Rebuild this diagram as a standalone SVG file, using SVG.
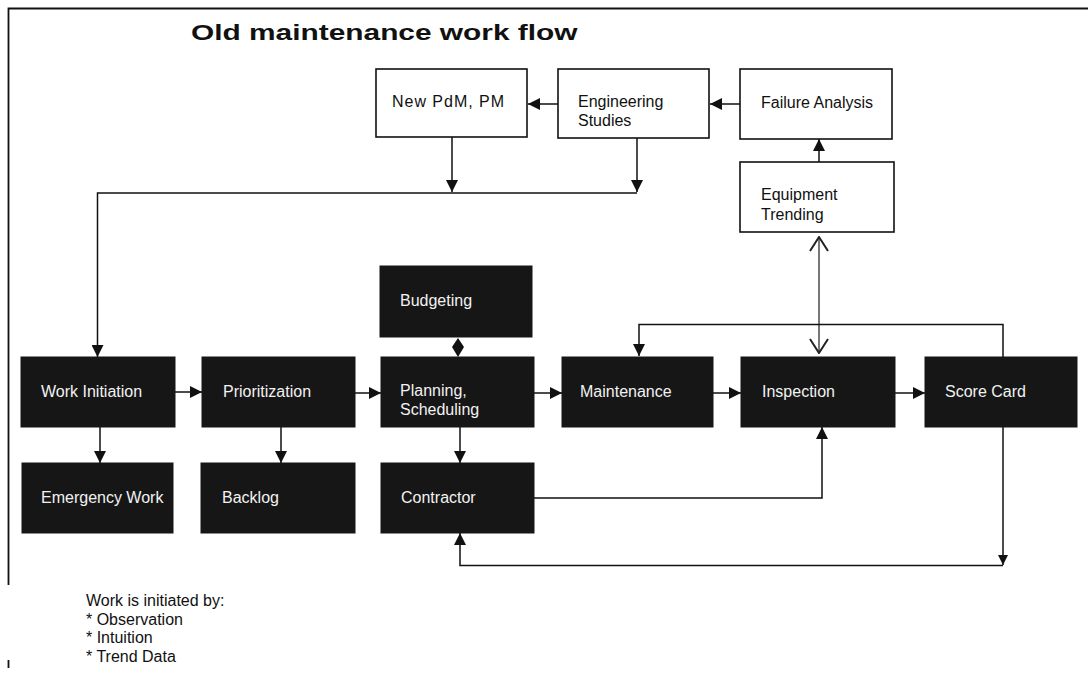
<svg xmlns="http://www.w3.org/2000/svg" width="1088" height="675" viewBox="0 0 1088 675">
  <style>
    text { font-family: "Liberation Sans", Arial, sans-serif; font-size: 16px; }
    .title { font-size: 22px; font-weight: bold; fill: #111; }
    .lite rect { fill: #ffffff; stroke: #111; stroke-width: 1.6; }
    .lite text { fill: #111; }
    .dark rect { fill: #161616; stroke: #161616; stroke-width: 1; }
    .dark text { fill: #f2f2f2; }
    .frame { fill: none; stroke: #111; stroke-width: 1.8; }
    .link { fill: none; stroke: #111; stroke-width: 1.5; }
    .link-grey { fill: none; stroke: #777; stroke-width: 2; }
    .note { fill: #111; }
  </style>
  <defs>
    <marker id="arrow" viewBox="0 0 12 12" refX="12" refY="6" markerWidth="12" markerHeight="12" markerUnits="userSpaceOnUse" orient="auto">
      <path d="M0,0 L12,6 L0,12 z" fill="#111"/>
    </marker>
    <marker id="arrow-sm" viewBox="0 0 10 10" refX="10" refY="5" markerWidth="10" markerHeight="10" markerUnits="userSpaceOnUse" orient="auto">
      <path d="M0,0 L10,5 L0,10 z" fill="#111"/>
    </marker>
    <marker id="open" viewBox="0 0 16 20" refX="15" refY="10" markerWidth="16" markerHeight="20" markerUnits="userSpaceOnUse" orient="auto-start-reverse">
      <path d="M1,1 L15,10 L1,19" fill="none" stroke="#222" stroke-width="2"/>
    </marker>
  </defs>

  <rect width="1088" height="675" fill="#ffffff"/>

  <!-- page frame -->
  <path class="frame" d="M8.5,668 L8.5,660 M8.5,585 L8.5,8.5 L1088,8.5"/>

  <!-- heading, set in a horizontally widened bold face -->
  <text class="title" transform="translate(191,40) scale(1.358,1)">Old maintenance work flow</text>

  <!-- connectors -->
  <g id="connectors">
    <!-- top loop: analysis feeding back into work initiation -->
    <line class="link" x1="740" y1="104" x2="710" y2="104" marker-end="url(#arrow)"/>
    <line class="link" x1="558" y1="104" x2="528" y2="104" marker-end="url(#arrow)"/>
    <line class="link" x1="819" y1="162" x2="819" y2="139" marker-end="url(#arrow)"/>
    <line class="link" x1="452" y1="137" x2="452" y2="192" marker-end="url(#arrow)"/>
    <line class="link" x1="637" y1="138" x2="637" y2="192" marker-end="url(#arrow)"/>
    <polyline class="link" points="637,193 97.5,193 97.5,357" marker-end="url(#arrow)"/>

    <!-- main row -->
    <line class="link" x1="175" y1="392" x2="202" y2="392" marker-end="url(#arrow)"/>
    <line class="link" x1="355" y1="393" x2="381" y2="393" marker-end="url(#arrow)"/>
    <line class="link" x1="534" y1="393" x2="562" y2="393" marker-end="url(#arrow)"/>
    <line class="link" x1="713" y1="393" x2="741" y2="393" marker-end="url(#arrow)"/>
    <line class="link" x1="895" y1="393" x2="925" y2="393" marker-end="url(#arrow)"/>

    <!-- branches down -->
    <line class="link" x1="100" y1="427" x2="100" y2="463" marker-end="url(#arrow)"/>
    <line class="link" x1="281" y1="427" x2="281" y2="463" marker-end="url(#arrow)"/>
    <line class="link" x1="460" y1="427" x2="460" y2="463" marker-end="url(#arrow)"/>

    <!-- budgeting <-> planning -->
    <polygon points="458,338 464,347 458,357 452,347" fill="#111"/>

    <!-- equipment trending <-> inspection -->
    <line class="link-grey" x1="819" y1="237" x2="819" y2="353" marker-start="url(#open)" marker-end="url(#open)"/>

    <!-- score card back to maintenance -->
    <polyline class="link" points="1003,357 1003,324.5 639,324.5 639,356" marker-end="url(#arrow)"/>

    <!-- contractor to inspection -->
    <polyline class="link" points="534,498 822,498 822,427" marker-end="url(#arrow)"/>

    <!-- score card to contractor -->
    <line class="link" x1="1003" y1="427" x2="1003" y2="565" marker-end="url(#arrow-sm)"/>
    <polyline class="link" points="1003,565.5 460,565.5 460,533" marker-end="url(#arrow)"/>
  </g>

  <!-- upper (white) nodes -->
  <g id="new-pdm" class="lite">
    <rect x="376" y="69" width="151" height="68"/>
    <text x="392" y="107" textLength="112" lengthAdjust="spacing">New PdM, PM</text>
  </g>
  <g id="engineering-studies" class="lite">
    <rect x="558" y="69" width="151" height="69"/>
    <text x="578" y="107">Engineering</text>
    <text x="578" y="126">Studies</text>
  </g>
  <g id="failure-analysis" class="lite">
    <rect x="740" y="69" width="152" height="70"/>
    <text x="761" y="108">Failure Analysis</text>
  </g>
  <g id="equipment-trending" class="lite">
    <rect x="740" y="162" width="154" height="70"/>
    <text x="761" y="200">Equipment</text>
    <text x="761" y="220">Trending</text>
  </g>

  <!-- process (dark) nodes -->
  <g id="budgeting" class="dark">
    <rect x="380" y="266" width="152" height="71"/>
    <text x="400" y="306">Budgeting</text>
  </g>
  <g id="work-initiation" class="dark">
    <rect x="21" y="357" width="154" height="70"/>
    <text x="41" y="397">Work Initiation</text>
  </g>
  <g id="prioritization" class="dark">
    <rect x="202" y="357" width="153" height="70"/>
    <text x="223" y="397">Prioritization</text>
  </g>
  <g id="planning-scheduling" class="dark">
    <rect x="381" y="357" width="153" height="70"/>
    <text x="400" y="396">Planning,</text>
    <text x="400" y="415">Scheduling</text>
  </g>
  <g id="maintenance" class="dark">
    <rect x="562" y="357" width="151" height="70"/>
    <text x="580" y="397">Maintenance</text>
  </g>
  <g id="inspection" class="dark">
    <rect x="741" y="357" width="154" height="70"/>
    <text x="762" y="397">Inspection</text>
  </g>
  <g id="score-card" class="dark">
    <rect x="925" y="357" width="152" height="70"/>
    <text x="945" y="397">Score Card</text>
  </g>
  <g id="emergency-work" class="dark">
    <rect x="22" y="463" width="151" height="70"/>
    <text x="41" y="503">Emergency Work</text>
  </g>
  <g id="backlog" class="dark">
    <rect x="201" y="463" width="154" height="70"/>
    <text x="222" y="503">Backlog</text>
  </g>
  <g id="contractor" class="dark">
    <rect x="381" y="463" width="153" height="70"/>
    <text x="401" y="503">Contractor</text>
  </g>

  <!-- note -->
  <g id="note" class="note">
    <text x="86" y="606">Work is initiated by:</text>
    <text x="86" y="625">* Observation</text>
    <text x="86" y="643">* Intuition</text>
    <text x="86" y="662">* Trend Data</text>
  </g>
</svg>
